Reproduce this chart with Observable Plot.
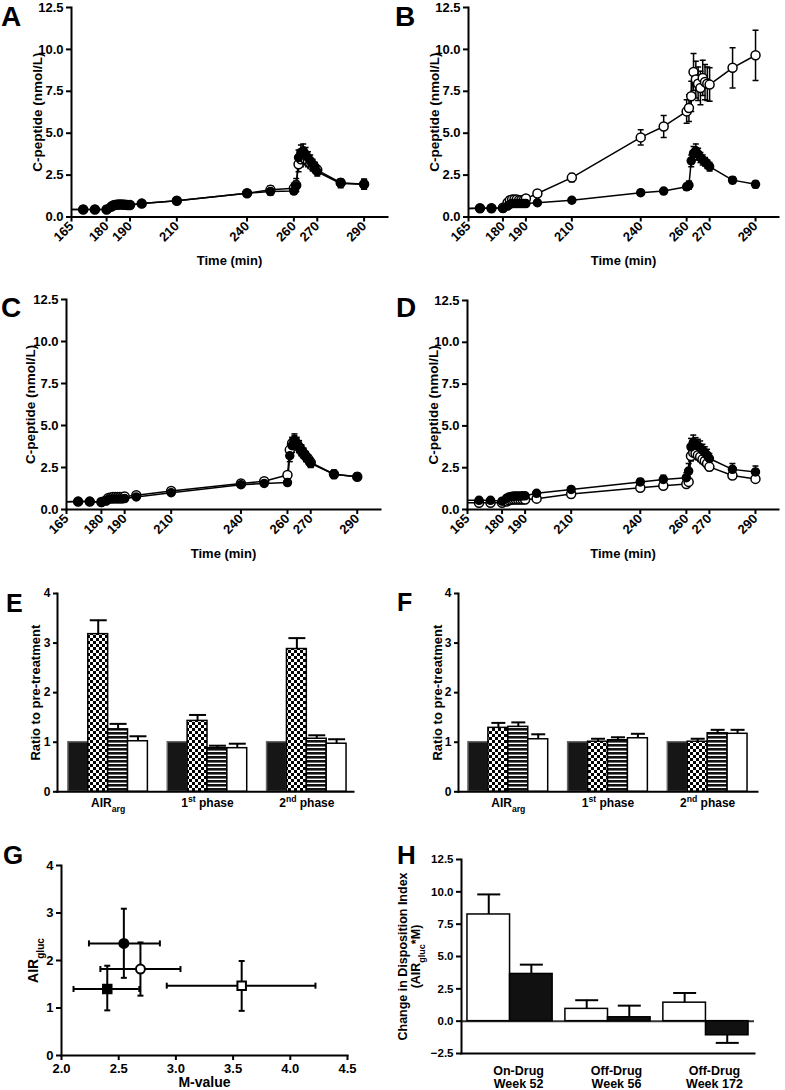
<!DOCTYPE html>
<html><head><meta charset="utf-8">
<script src="https://cdn.jsdelivr.net/npm/d3@7"></script>
<script src="https://cdn.jsdelivr.net/npm/@observablehq/plot@0.6"></script>
<style>
body{margin:0;background:#fff;}
#fig{position:relative;width:785px;height:1090px;overflow:hidden;font-family:"Liberation Sans",Arial,sans-serif;}
.panel{position:absolute;}
.panel svg{overflow:visible;}
.letter{position:absolute;font-weight:bold;color:#000;font-family:"Liberation Sans",Arial,sans-serif;}
</style></head><body>
<svg width="0" height="0" style="position:absolute">
<defs>
<pattern id="checker" width="6" height="6" patternUnits="userSpaceOnUse">
<rect width="6" height="6" fill="#fff"/><rect width="3" height="3" fill="#000"/><rect x="3" y="3" width="3" height="3" fill="#000"/>
</pattern>
<pattern id="hstripe" width="4" height="4" patternUnits="userSpaceOnUse">
<rect width="4" height="4" fill="#fff"/><rect width="4" height="2.6" fill="#111"/>
</pattern>
</defs></svg>
<div id="fig"></div>
<script>
// ---------------- DATA ----------------
const times = [160,170,175,180,182,183,184,185,186,187,188,189,190,195,210,240,250,260,261,262,263,264,265,266,267,268,269,270,280,290];
const timeTicks = [165,180,190,210,240,260,270,290];
const cpepTicks = [0,2.5,5,7.5,10,12.5];

const aFilled    = [0.45,0.45,0.45,0.45,0.60,0.70,0.72,0.74,0.74,0.73,0.72,0.72,0.72,0.80,0.97,1.42,1.52,1.55,1.85,3.55,3.85,3.95,3.75,3.55,3.35,3.15,2.95,2.70,2.00,1.95];
const aFilledErr = [0.04,0.04,0.04,0.04,0.06,0.07,0.07,0.07,0.07,0.07,0.07,0.07,0.07,0.08,0.10,0.15,0.20,0.20,0.30,0.45,0.45,0.40,0.40,0.35,0.35,0.30,0.30,0.25,0.25,0.30];
const aOpen      = [0.45,0.45,0.45,0.45,0.62,0.70,0.73,0.75,0.75,0.74,0.73,0.72,0.72,0.80,0.97,1.42,1.62,1.72,1.90,3.15,3.45,3.55,3.45,3.35,3.20,3.05,2.95,2.80,2.05,1.95];
const aOpenErr   = [0.04,0.04,0.04,0.04,0.06,0.07,0.07,0.07,0.07,0.07,0.07,0.07,0.07,0.08,0.10,0.15,0.25,0.30,0.40,0.45,0.45,0.40,0.35,0.35,0.30,0.30,0.30,0.25,0.20,0.30];

const bFilled    = [0.50,0.52,0.52,0.50,0.65,0.75,0.80,0.80,0.80,0.80,0.80,0.80,0.80,0.85,1.00,1.45,1.55,1.80,1.90,3.35,3.80,3.95,3.75,3.55,3.40,3.30,3.15,3.00,2.20,1.95];
const bFilledErr = [0.04,0.04,0.04,0.04,0.05,0.06,0.06,0.06,0.06,0.06,0.06,0.06,0.06,0.07,0.08,0.10,0.10,0.20,0.25,0.35,0.40,0.40,0.35,0.30,0.30,0.25,0.25,0.25,0.20,0.20];
const bOpen      = [0.50,0.52,0.52,0.55,0.85,1.00,1.05,1.05,1.05,1.00,1.00,1.00,1.10,1.40,2.35,4.75,5.40,6.30,6.50,7.20,8.65,8.20,7.95,7.70,8.30,8.05,7.95,7.90,8.90,9.65];
const bOpenErr   = [0.05,0.05,0.05,0.05,0.10,0.12,0.12,0.12,0.12,0.12,0.12,0.12,0.12,0.15,0.25,0.45,0.65,0.70,0.80,0.90,1.10,1.10,1.00,1.00,1.05,1.05,1.00,1.00,1.20,1.50];

const cFilled    = [0.45,0.47,0.47,0.42,0.50,0.60,0.62,0.63,0.63,0.63,0.63,0.63,0.65,0.75,1.00,1.48,1.55,1.60,3.20,3.80,4.10,3.95,3.75,3.55,3.35,3.15,2.95,2.75,2.10,1.95];
const cFilledErr = [0.04,0.04,0.04,0.04,0.05,0.06,0.06,0.06,0.06,0.06,0.06,0.06,0.06,0.07,0.08,0.10,0.12,0.15,0.35,0.40,0.40,0.35,0.35,0.30,0.30,0.30,0.25,0.25,0.25,0.20];
const cOpen      = [0.45,0.47,0.47,0.45,0.55,0.68,0.72,0.75,0.75,0.75,0.75,0.75,0.78,0.85,1.10,1.55,1.68,2.05,3.55,3.95,4.05,3.90,3.70,3.50,3.30,3.15,3.00,2.80,2.10,1.95];
const cOpenErr   = [0.04,0.04,0.04,0.04,0.05,0.06,0.06,0.06,0.06,0.06,0.06,0.06,0.06,0.07,0.08,0.10,0.12,0.15,0.30,0.35,0.35,0.30,0.30,0.30,0.25,0.25,0.25,0.25,0.20,0.20];

const dFilled    = [0.55,0.55,0.55,0.50,0.68,0.75,0.78,0.80,0.80,0.80,0.80,0.82,0.82,0.97,1.20,1.65,1.80,1.90,2.30,3.75,4.00,3.90,3.80,3.70,3.55,3.40,3.25,3.05,2.40,2.25];
const dFilledErr = [0.06,0.06,0.06,0.06,0.07,0.08,0.08,0.08,0.08,0.08,0.08,0.08,0.08,0.10,0.12,0.20,0.25,0.30,0.45,0.50,0.45,0.40,0.40,0.40,0.35,0.35,0.35,0.30,0.35,0.35];
const dOpen      = [0.40,0.40,0.40,0.40,0.48,0.55,0.58,0.60,0.60,0.60,0.60,0.60,0.60,0.65,0.93,1.30,1.42,1.52,1.65,3.20,3.40,3.35,3.25,3.15,3.00,2.90,2.75,2.55,2.03,1.83];
const dOpenErr   = [0.04,0.04,0.04,0.04,0.05,0.06,0.06,0.06,0.06,0.06,0.06,0.06,0.06,0.07,0.08,0.10,0.12,0.15,0.20,0.30,0.30,0.30,0.28,0.28,0.25,0.25,0.25,0.22,0.20,0.20];

// Panels E/F: ratio to pre-treatment
const ratioGroups = ["AIR_arg", "1^st phase", "2^nd phase"];
const ratioTicks = [0,1,2,3,4];
const ePre = [1,1,1],            ePreErr = [0,0,0];
const eWeek52 = [3.18,1.43,2.88], eWeek52Err = [0.28,0.12,0.22];
const eWeek56 = [1.26,0.88,1.07], eWeek56Err = [0.11,0.05,0.07];
const eWeek172 = [1.02,0.88,0.97], eWeek172Err = [0.10,0.09,0.09];
const fPre = [1,1,1],            fPreErr = [0,0,0];
const fWeek52 = [1.29,1.01,1.01], fWeek52Err = [0.10,0.06,0.06];
const fWeek56 = [1.31,1.04,1.18], fWeek56Err = [0.09,0.06,0.07];
const fWeek172 = [1.06,1.08,1.17], fWeek172Err = [0.10,0.09,0.08];

// Panel G: M-value vs AIRgluc
const gM     = [2.545, 2.69, 2.40, 3.575];
const gMlo   = [2.24, 2.34, 2.105, 2.92];
const gMhi   = [2.86, 3.04, 2.68, 4.22];
const gAIR   = [2.36, 1.82, 1.40, 1.47];
const gAIRlo = [1.635, 1.26, 0.95, 0.94];
const gAIRhi = [3.09, 2.38, 1.89, 1.99];
const gShape = ["circle", "circle", "square", "square"];
const gFilled = [true, false, true, false];
const gXTicks = [2.0,2.5,3.0,3.5,4.0,4.5];
const gYTicks = [0,1,2,3,4];

// Panel H: change in disposition index
const hGroups = ["On-Drug\nWeek 52", "Off-Drug\nWeek 56", "Off-Drug\nWeek 172"];
const hOpenBars = [8.25, 0.95, 1.43], hOpenErr = [1.55, 0.67, 0.75];
const hSolidBars = [3.65, 0.30, -1.09], hSolidErr = [0.72, 0.90, 0.59];
const hTicks = [-2.5,0,2.5,5,7.5,10,12.5];

// ---------------- HELPERS ----------------
const fig = document.getElementById("fig");
const FONT = '"Liberation Sans", Arial, sans-serif';
function place(node, left, top, width, height) {
  const div = document.createElement("div");
  div.className = "panel";
  Object.assign(div.style, {left: left + "px", top: top + "px", width: width + "px", height: height + "px"});
  div.appendChild(node);
  fig.appendChild(div);
  richify(node);
}
function letter(ch, left, top, size) {
  const d = document.createElement("div");
  d.className = "letter";
  d.textContent = ch;
  Object.assign(d.style, {left: left + "px", top: top + "px", fontSize: size + "px", lineHeight: size + "px"});
  fig.appendChild(d);
}
function richify(svg) {
  svg.querySelectorAll("text, tspan").forEach(el => {
    if (el.children.length) return;
    const s = el.textContent;
    if (!/[_^][A-Za-z]/.test(s)) return;
    el.textContent = "";
    const re = /([_^])([A-Za-z]+)/g;
    let last = 0, m;
    const mk = (txt) => { const t = document.createElementNS("http://www.w3.org/2000/svg", "tspan"); t.textContent = txt; return t; };
    while ((m = re.exec(s))) {
      if (m.index > last) el.appendChild(mk(s.slice(last, m.index)));
      const t = mk(m[2]);
      t.setAttribute("baseline-shift", m[1] === "_" ? "sub" : "super");
      t.setAttribute("font-size", "72%");
      el.appendChild(t);
      last = re.lastIndex;
    }
    if (last < s.length) el.appendChild(mk(s.slice(last)));
  });
}
const hcap = {draw(ctx, size) { const r = Math.sqrt(size / Math.PI); ctx.moveTo(-r, 0); ctx.lineTo(r, 0); }};
const vcap = {draw(ctx, size) { const r = Math.sqrt(size / Math.PI); ctx.moveTo(0, -r); ctx.lineTo(0, r); }};
const style = (fs) => ({fontFamily: FONT, fontWeight: "bold", fontSize: fs + "px", color: "#000", background: "transparent", overflow: "visible"});
function margins(box, frame) {
  const [L, T, W, H] = box, [x0, x1, y0, y1] = frame;
  return {width: W, height: H, marginLeft: x0 - L, marginRight: L + W - x1, marginTop: y0 - T, marginBottom: T + H - y1};
}
const yLabelAxis = (label, offset, fontSize) => Plot.axisY({ticks: [], tickSize: 0, label, labelAnchor: "center", labelArrow: "none", labelOffset: offset, fontSize});
const xLabelAxis = (label, offset, fontSize) => Plot.axisX({ticks: [], tickSize: 0, label, labelAnchor: "center", labelArrow: "none", labelOffset: offset, fontSize});

// ---------------- TIME-COURSE PANELS ----------------
function timePanel(box, frame, series, yOff) {
  const marks = [
    Plot.frame({anchor: "left", strokeWidth: 2}),
    Plot.frame({anchor: "bottom", strokeWidth: 2}),
    Plot.axisY({ticks: cpepTicks, tickFormat: d3.format(".1f"), tickSize: 5, tickPadding: 3, strokeWidth: 2, fontSize: 13, label: null}),
    yLabelAxis("C-peptide (nmol/L)", yOff, 13.5),
    Plot.axisX({ticks: timeTicks, tickFormat: d => String(d), tickRotate: -45, tickSize: 5, tickPadding: 2, strokeWidth: 2, fontSize: 13, label: null}),
    xLabelAxis("Time (min)", 48, 13)
  ];
  const data = series.map(s => times.map((t, i) => ({t, v: s.v[i], e: s.e[i]})));
  data.forEach(r => {
    marks.push(Plot.ruleX(r, {x: "t", y1: d => d.v - d.e, y2: d => d.v + d.e, stroke: "#000", strokeWidth: 1.5, clip: true}));
    marks.push(Plot.dot(r, {x: "t", y: d => d.v + d.e, symbol: hcap, r: 3, stroke: "#000", strokeWidth: 1.5, clip: true}));
    marks.push(Plot.dot(r, {x: "t", y: d => d.v - d.e, symbol: hcap, r: 3, stroke: "#000", strokeWidth: 1.5, clip: true}));
  });
  data.forEach(r => marks.push(Plot.line(r, {x: "t", y: "v", stroke: "#000", strokeWidth: 1.5, clip: true})));
  data.forEach((r, i) => marks.push(Plot.dot(r, {x: "t", y: "v", r: series[i].r, fill: series[i].fill, stroke: "#000", strokeWidth: 1.5, clip: true})));
  return Plot.plot({...margins(box, frame), x: {domain: [165, 300]}, y: {domain: [0, 12.5]}, style: style(13), marks});
}
const openS = (v, e) => ({v, e, fill: "#fff", r: 4.5});
const fillS = (v, e) => ({v, e, fill: "#000", r: 4});

place(timePanel([0, 0, 390, 280], [71, 387, 7, 216.5], [openS(aOpen, aOpenErr), fillS(aFilled, aFilledErr)], 39), 0, 0, 390, 280);
place(timePanel([390, 0, 395, 280], [468, 778, 7, 216.5], [openS(bOpen, bOpenErr), fillS(bFilled, bFilledErr)], 39), 390, 0, 395, 280);
place(timePanel([0, 280, 390, 280], [66, 380, 299, 509], [openS(cOpen, cOpenErr), fillS(cFilled, cFilledErr)], 41), 0, 280, 390, 280);
place(timePanel([390, 280, 395, 280], [467, 778, 300, 509], [openS(dOpen, dOpenErr), fillS(dFilled, dFilledErr)], 39), 390, 280, 395, 280);

// ---------------- RATIO BAR PANELS ----------------
const barFills = ["#161616", "url(#checker)", "url(#hstripe)", "#fff"];
const barStrokes = ["#666", "#000", "#000", "#000"];
function ratioPanel(box, frame, vals, errs, xDomain, capR, yOff) {
  const rows = ratioGroups.flatMap((g, gi) => vals.map((v, k) => ({slot: gi * 5 + k, v: v[gi], e: errs[k][gi], k})));
  const marks = [
    Plot.axisY({ticks: ratioTicks, tickFormat: d3.format("d"), tickSize: 4, tickPadding: 3, strokeWidth: 2, fontSize: 12, label: null}),
    yLabelAxis("Ratio to pre-treatment", yOff, 13),
    Plot.axisX({ticks: ratioGroups.map((g, i) => i * 5 + 2), tickFormat: d => ratioGroups[Math.round((d - 2) / 5)], tickSize: 0, tickPadding: 7, fontSize: 12, label: null})
  ];
  vals.forEach((v, k) => marks.push(Plot.rect(rows.filter(d => d.k === k), {x1: "slot", x2: d => d.slot + 1, y1: 0, y2: "v", fill: barFills[k], stroke: barStrokes[k], strokeWidth: 1.5})));
  const er = rows.filter(d => d.e > 0);
  marks.push(Plot.ruleX(er, {x: d => d.slot + 0.5, y1: "v", y2: d => d.v + d.e, stroke: "#000", strokeWidth: 2}));
  marks.push(Plot.dot(er, {x: d => d.slot + 0.5, y: d => d.v + d.e, symbol: hcap, r: capR, stroke: "#000", strokeWidth: 2}));
  marks.push(Plot.frame({anchor: "left", strokeWidth: 2}));
  marks.push(Plot.frame({anchor: "bottom", strokeWidth: 2}));
  return Plot.plot({...margins(box, frame), x: {domain: xDomain}, y: {domain: [0, 4]}, style: style(12), marks});
}
place(ratioPanel([0, 560, 390, 260], [57, 353, 593, 791.3], [ePre, eWeek52, eWeek56, eWeek172], [ePreErr, eWeek52Err, eWeek56Err, eWeek172Err], [-0.55, 14.35], 8.5, 27), 0, 560, 390, 260);
place(ratioPanel([390, 560, 395, 260], [458, 757, 593, 791.3], [fPre, fWeek52, fWeek56, fWeek172], [fPreErr, fWeek52Err, fWeek56Err, fWeek172Err], [-0.5, 14.5], 7, 26), 390, 560, 395, 260);

// ---------------- PANEL G ----------------
(function () {
  const rows = gM.map((m, i) => ({m, lo: gMlo[i], hi: gMhi[i], a: gAIR[i], alo: gAIRlo[i], ahi: gAIRhi[i], shape: gShape[i], filled: gFilled[i]}));
  const marks = [
    Plot.frame({anchor: "left", strokeWidth: 2}),
    Plot.frame({anchor: "bottom", strokeWidth: 2}),
    Plot.axisY({ticks: gYTicks, tickFormat: d3.format("d"), tickSize: 5, tickPadding: 3, strokeWidth: 2, fontSize: 13, label: null}),
    yLabelAxis("AIR_gluc", 33, 14),
    Plot.axisX({ticks: gXTicks, tickFormat: d3.format(".1f"), tickSize: 5, tickPadding: 3, strokeWidth: 2, fontSize: 13, label: null}),
    xLabelAxis("M-value", 31, 14),
    Plot.ruleX(rows, {x: "m", y1: "alo", y2: "ahi", stroke: "#000", strokeWidth: 2}),
    Plot.ruleY(rows, {y: "a", x1: "lo", x2: "hi", stroke: "#000", strokeWidth: 2}),
    Plot.dot(rows, {x: "m", y: "alo", symbol: hcap, r: 3, stroke: "#000", strokeWidth: 2}),
    Plot.dot(rows, {x: "m", y: "ahi", symbol: hcap, r: 3, stroke: "#000", strokeWidth: 2}),
    Plot.dot(rows, {x: "lo", y: "a", symbol: vcap, r: 3, stroke: "#000", strokeWidth: 2}),
    Plot.dot(rows, {x: "hi", y: "a", symbol: vcap, r: 3, stroke: "#000", strokeWidth: 2})
  ];
  rows.forEach(r => marks.push(Plot.dot([r], {x: "m", y: "a", symbol: r.shape, r: r.shape === "square" ? 4.8 : 4.5, fill: r.filled ? "#000" : "#fff", stroke: "#000", strokeWidth: 2})));
  const box = [0, 830, 390, 260];
  place(Plot.plot({...margins(box, [61, 347, 865, 1055]), x: {domain: [2, 4.5]}, y: {domain: [0, 4]}, style: style(13), marks}), 0, 830, 390, 260);
})();

// ---------------- PANEL H ----------------
(function () {
  const step = 2.3;
  const rows = hGroups.flatMap((g, gi) => [
    {slot: gi * step, v: hOpenBars[gi], e: hOpenErr[gi], fill: "#fff"},
    {slot: gi * step + 1, v: hSolidBars[gi], e: hSolidErr[gi], fill: "#111"}
  ]);
  const marks = [
    Plot.ruleY([0], {stroke: "#333", strokeWidth: 2}),
    Plot.axisY({ticks: hTicks, tickFormat: d3.format(".1f"), tickSize: 5, tickPadding: 3, strokeWidth: 2, fontSize: 11.5, label: null}),
    yLabelAxis("Change in Disposition Index\n(AIR_gluc*M)", 63, 12.5),
    Plot.axisX({ticks: hGroups.map((g, i) => i * step + 1.2), tickFormat: d => hGroups[Math.round((d - 1.2) / step)], tickSize: 0, tickPadding: 13, fontSize: 12.5, label: null}),
    Plot.rect(rows.filter(d => d.fill === "#fff"), {x1: "slot", x2: d => d.slot + 1, y1: 0, y2: "v", fill: "#fff", stroke: "#000", strokeWidth: 1.5}),
    Plot.rect(rows.filter(d => d.fill !== "#fff"), {x1: "slot", x2: d => d.slot + 1, y1: 0, y2: "v", fill: "#111", stroke: "#000", strokeWidth: 1.5}),
    Plot.ruleX(rows, {x: d => d.slot + 0.5, y1: "v", y2: d => d.v + Math.sign(d.v) * d.e, stroke: "#000", strokeWidth: 2}),
    Plot.dot(rows, {x: d => d.slot + 0.5, y: d => d.v + Math.sign(d.v) * d.e, symbol: hcap, r: 11.5, stroke: "#000", strokeWidth: 2}),
    Plot.frame({anchor: "left", strokeWidth: 2}),
    Plot.frame({anchor: "bottom", strokeWidth: 2})
  ];
  const box = [390, 830, 395, 260];
  place(Plot.plot({...margins(box, [461, 754, 859, 1053]), x: {domain: [-0.14, 6.74]}, y: {domain: [-2.5, 12.5]}, style: style(12.5), marks}), 390, 830, 395, 260);
})();

// ---------------- PANEL LETTERS ----------------
letter("A", 1, 3, 28); letter("B", 395, 3, 28);
letter("C", 1, 294, 28); letter("D", 396, 294, 28);
letter("E", 6, 591, 25); letter("F", 397, 590, 25);
letter("G", 3, 842, 26); letter("H", 397, 842, 26);
</script>
</body></html>
